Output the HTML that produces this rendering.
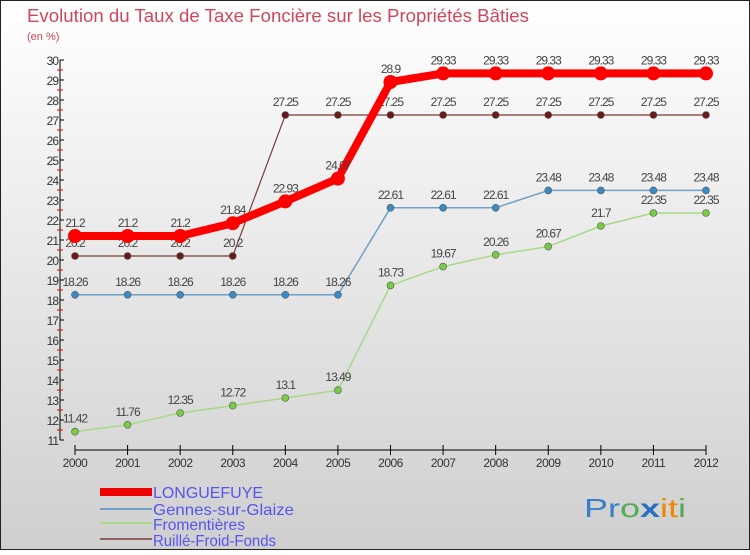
<!DOCTYPE html>
<html><head><meta charset="utf-8"><style>
body{margin:0}
svg text{font-family:"Liberation Sans",sans-serif}
</style></head><body>
<svg width="750" height="550" xmlns="http://www.w3.org/2000/svg" id="c">
<defs><linearGradient id="bg" x1="0" y1="0" x2="0" y2="1"><stop offset="0" stop-color="#ffffff"/><stop offset="1" stop-color="#cfcfcf"/></linearGradient></defs>
<rect x="0.5" y="0.5" width="749" height="549" fill="url(#bg)" stroke="#222"/>
<text x="27" y="22" font-size="18" fill="#d0465a" textLength="502" lengthAdjust="spacingAndGlyphs">Evolution du Taux de Taxe Foncière sur les Propriétés Bâties</text>
<text x="27" y="40" font-size="11" fill="#d0465a">(en %)</text>
<g id="axes"></g><g id="series"></g>
<g>
<rect x="100" y="488" width="52" height="8" fill="#e00"/>
<text x="153" y="498" font-size="16" fill="#55e" textLength="110" lengthAdjust="spacingAndGlyphs">LONGUEFUYE</text>
<line x1="100" y1="509" x2="152" y2="509" stroke="#6fa0c8" stroke-width="2"/>
<text x="153" y="515" font-size="16" fill="#55e" textLength="141" lengthAdjust="spacingAndGlyphs">Gennes-sur-Glaize</text>
<line x1="100" y1="523" x2="152" y2="523" stroke="#a8d888" stroke-width="2"/>
<text x="153" y="530" font-size="16" fill="#55e" textLength="92" lengthAdjust="spacingAndGlyphs">Fromentières</text>
<line x1="100" y1="539" x2="152" y2="539" stroke="#8a6060" stroke-width="2"/>
<text x="153" y="546" font-size="16" fill="#55e" textLength="123" lengthAdjust="spacingAndGlyphs">Ruillé-Froid-Fonds</text>
</g>
<g font-size="26">
<text x="584" y="517" textLength="102" lengthAdjust="spacingAndGlyphs"><tspan fill="#3a80c8">Pr</tspan><tspan fill="#5a5">o</tspan><tspan fill="#2a70c0" font-weight="bold">x</tspan><tspan fill="#e80">i</tspan><tspan fill="#e80">t</tspan><tspan fill="#5a5">i</tspan></text>
</g>
</svg>
<script>
const years=[2000,2001,2002,2003,2004,2005,2006,2007,2008,2009,2010,2011,2012];
const yTicks=[11,12,13,14,15,16,17,18,19,20,21,22,23,24,25,26,27,28,29,30];
const longuefuye=[21.2,21.2,21.2,21.84,22.93,24.07,28.9,29.33,29.33,29.33,29.33,29.33,29.33];
const gennes=[18.26,18.26,18.26,18.26,18.26,18.26,22.61,22.61,22.61,23.48,23.48,23.48,23.48];
const fromentieres=[11.42,11.76,12.35,12.72,13.1,13.49,18.73,19.67,20.26,20.67,21.7,22.35,22.35];
const ruille=[20.2,20.2,20.2,20.2,27.25,27.25,27.25,27.25,27.25,27.25,27.25,27.25,27.25];
const NS='http://www.w3.org/2000/svg';
const X=i=>75+i*(706-75)/(years.length-1);
const Y=v=>60+(30-v)*20;
function mk(t,a,p){const e=document.createElementNS(NS,t);for(const k in a)e.setAttribute(k,a[k]);p.appendChild(e);return e;}
const ax=document.getElementById('axes');
let yl=mk('line',{x1:60,y1:60,x2:60,y2:440,stroke:'#000'},ax);


yTicks.forEach(v=>{
 mk('line',{x1:60,y1:Y(v),x2:64,y2:Y(v),stroke:'#000'},ax);
 if(v<30) mk('line',{x1:57,y1:Y(v+0.5),x2:63,y2:Y(v+0.5),stroke:'#e00'},ax);
 const t=mk('text',{x:58,y:Y(v)+5,'font-size':12,'text-anchor':'end',fill:'#333','letter-spacing':'-1'},ax);
 
 
 t.textContent=v;
});
let xl=mk('line',{x1:75,y1:450,x2:706,y2:450,stroke:'#000'},ax);


years.forEach((y,i)=>{
 mk('line',{x1:X(i),y1:445,x2:X(i),y2:455,stroke:'#000'},ax);
 const t=mk('text',{x:X(i),y:467,'font-size':12,'text-anchor':'middle',fill:'#333','letter-spacing':'-0.5'},ax);
 
 
 t.textContent=y;
});
const sg=document.getElementById('series');
function series(name,vals,color,w,r,fill){
 const g=mk('g',{},sg);
 
 
 mk('polyline',{points:vals.map((v,i)=>X(i)+','+Y(v)).join(' '),fill:'none',stroke:color,'stroke-width':w,'stroke-linejoin':'round'},g);
 vals.forEach((v,i)=>{
  const c=mk('circle',{cx:X(i),cy:Y(v),r:r,fill:fill,stroke:'#555','stroke-width':r>5?0:0.6},g);
  
  
  const t=mk('text',{x:X(i),y:Y(v)-9,'font-size':12,'text-anchor':'middle',fill:'#444','letter-spacing':'-1'},g);
  
  
  t.textContent=v;
 });
}
series('fromentieres',fromentieres,'#a8d888',1.5,3.5,'#7c4');
series('gennes',gennes,'#6fa0c8',1.5,3.5,'#3a8ac8');
series('ruille',ruille,'#7a3a3a',1.2,3.5,'#6a1a1a');
series('longuefuye',longuefuye,'#f00',8,7,'#f00');
</script>
</body></html>
